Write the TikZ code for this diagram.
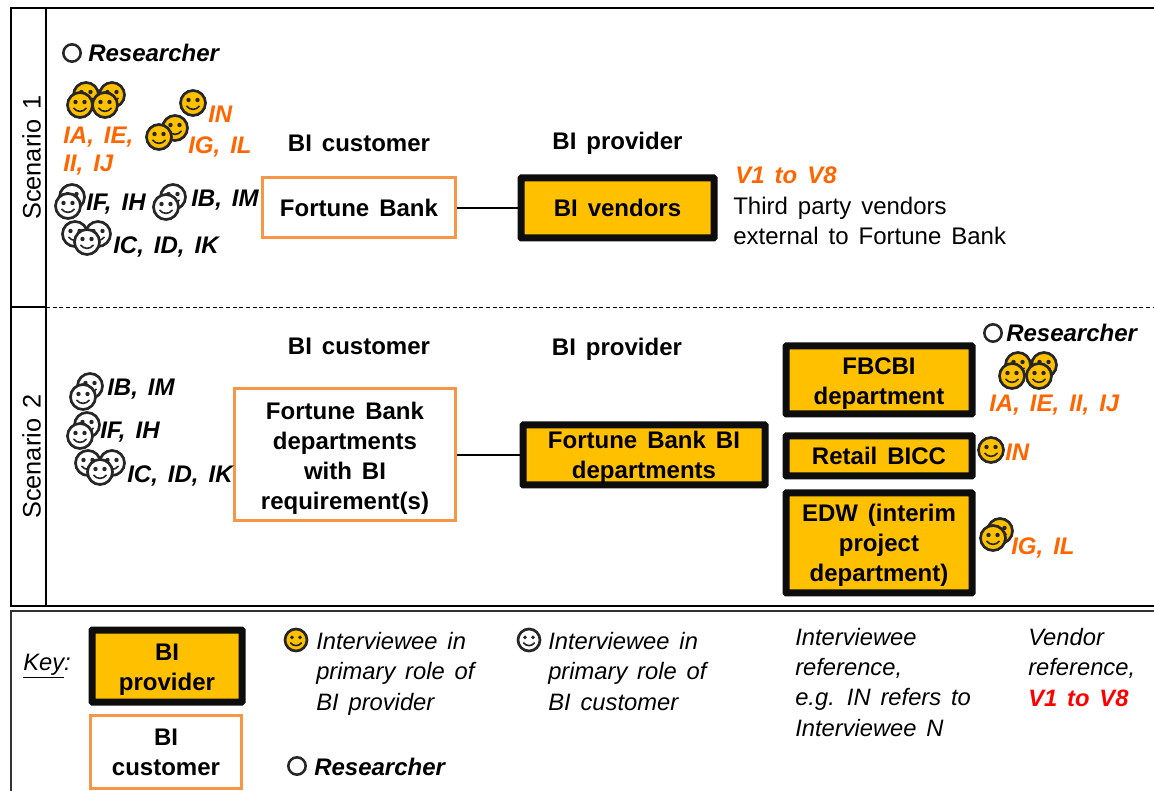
\documentclass[tikz,border=0pt]{standalone}
\usepackage{xcolor}
\usepackage{fontspec}
\setmainfont[WordSpace=1.5]{Liberation Sans}
\usepackage{tikz}
\usetikzlibrary{positioning}
\definecolor{provgold}{HTML}{FFC000}
\definecolor{custline}{HTML}{F79646}
\definecolor{reforange}{HTML}{FF6600}
\newcommand{\topgap}[1]{\rule{0pt}{#1pt}} % pushes a multi-line box text down a little
\tikzset{
	every node/.style={font=\fontsize{18}{22.5}\selectfont}, % same type size for all text
	custbox/.style={draw=custline, line width=2.25pt, fill=white, align=center, inner sep=0pt, font=\fontsize{18}{22.5}\selectfont\bfseries},
	provbox/.style={draw=black!95, line width=5.25pt, fill=provgold, rounded corners=0.5pt, align=center, inner sep=0pt, font=\fontsize{18}{22.5}\selectfont\bfseries},
	head/.style={inner sep=0pt, font=\fontsize{18}{22.5}\selectfont\bfseries},
	blackref/.style={anchor=base west, inner sep=0pt, font=\fontsize{18}{22.5}\selectfont\bfseries\itshape},
	orangeref/.style={blackref, text=reforange},
	plain/.style={anchor=base west, inner sep=0pt, align=left},
	keytext/.style={anchor=base west, inner sep=0pt, align=left, font=\fontsize{17.8}{22.7}\selectfont\itshape},
	researcher/.style={circle, draw=black!85, line width=1.9pt, minimum size=13pt, inner sep=0pt},
	rowname/.style={rotate=90, inner sep=0pt, font=\fontsize{19}{22.5}\selectfont},
	frameline/.style={draw=black, line width=1.9pt},
	pics/face/.style={code={
		\draw[line width=2pt, draw=black!85, fill=#1] (0,0) circle (12.5);
		\fill[black!85] (-4.5,-3) circle (2.2) (4.5,-3) circle (2.2);
		\draw[line width=1.2pt, black!85] (-6.5,3) .. controls (-3,7.5) and (3,7.5) .. (6.5,3);
	}},
}

\begin{document}
\begin{tikzpicture}[x=0.75pt, y=-0.75pt, on grid]
	\useasboundingbox (0,0) rectangle (1154,791);

	% Frames
	\draw[frameline] (1154,8) -- (11,8) -- (11,606) -- (1154,606);
	\draw[frameline] (46,8) -- (46,606);
	\draw[frameline] (11,307) -- (46,307);
	\draw[black, line width=0.6pt, densely dashed] (46,307) -- (1154,307);
	\draw[black!80, line width=1pt] (1154,611) -- (11,611) -- (11,791);
	\node[rowname] (row1) at (31.5,157.5) {Scenario 1};
	\node[rowname] (row2) at (31.5,456.5) {Scenario 2};

	% Scenario 1
	\node[custbox, minimum width=145pt, minimum height=45pt] (fbank) at (359,208) {Fortune Bank};
	\node[provbox, minimum width=144.75pt, minimum height=45pt] (vendors) at (617.5,208) {BI vendors};
	\node[head, above=48.5pt of fbank] (cust1) {BI customer};
	\node[head, above=48.5pt of vendors] (prov1) {BI provider};
	\draw[line width=1.5pt] (fbank) -- (vendors);

	\node[researcher] (res1) at (72,53) {};
	\node[blackref] (res1txt) at (88,62) {Researcher};
	\foreach \x/\y in {86/95, 112/95, 80/105, 105/105, 193/103, 175/128, 159/137}
		\pic at (\x,\y) {face=provgold};
	\foreach \x/\y in {72/197, 68/206, 173/197, 166/207, 75/234, 98/234, 87/242}
		\pic at (\x,\y) {face=white};
	\node[orangeref] (ia1) at (63,144) {IA, IE,};
	\node[orangeref] (ii1) at (63,172) {II, IJ};
	\node[orangeref] (in1) at (208,123) {IN};
	\node[orangeref] (ig1) at (188,154) {IG, IL};
	\node[blackref] (if1) at (86,211) {IF, IH};
	\node[blackref] (ib1) at (191,207) {IB, IM};
	\node[blackref] (ic1) at (113,254) {IC, ID, IK};
	\node[orangeref] (vref) at (735,184) {V1 to V8};
	\node[plain] (third) at (733,245) {Third party vendors\\external to Fortune Bank};

	% Scenario 2
	\node[custbox, minimum width=166pt, minimum height=99pt] (fbdept) at (345,454.5) {\topgap{19}Fortune Bank\\departments\\with BI\\requirement(s)};
	\node[provbox, minimum width=181.5pt, minimum height=45pt] (bidept) at (644,455) {\topgap{17}Fortune Bank BI\\departments};
	\node[provbox, minimum width=139.5pt, minimum height=51pt] (fbcbi) at (879,380) {\topgap{17.5}FBCBI\\department};
	\node[provbox, minimum width=139.5pt, minimum height=30pt] (retail) at (879,456) {Retail BICC};
	\node[provbox, minimum width=139.5pt, minimum height=75pt] (edw) at (879,543) {\topgap{16}EDW (interim\\project\\department)};
	\node[head] (cust2) at (359,346) {BI customer};
	\node[head] (prov2) at (617,349) {BI provider};
	\draw[line width=1.5pt] (fbdept.east |- bidept) -- (bidept);

	\foreach \x/\y in {90/386, 83/397, 87/425, 80/436, 88/463, 112/463, 100/472}
		\pic at (\x,\y) {face=white};
	\foreach \x/\y in {1018/365, 1044/365, 1012/376, 1039/376, 991/450, 1000/531, 993/538}
		\pic at (\x,\y) {face=provgold};
	\node[blackref] (ib2) at (107,396) {IB, IM};
	\node[blackref] (if2) at (100,439) {IF, IH};
	\node[blackref] (ic2) at (127,483) {IC, ID, IK};
	\node[researcher] (res2) at (993,333) {};
	\node[blackref] (res2txt) at (1006,342) {Researcher};
	\node[orangeref] (ia2) at (989,412) {IA, IE, II, IJ};
	\node[orangeref] (in2) at (1005,461) {IN};
	\node[orangeref] (ig2) at (1011,555) {IG, IL};

	% Key
	\node[keytext] (key) at (23,670) {\underline{Key}:};
	\node[provbox, minimum width=112.5pt, minimum height=54pt] (keyprov) at (167,666) {\topgap{18}BI\\provider};
	\node[custbox, minimum width=113pt, minimum height=55pt] (keycust) at (166,752) {BI\\customer};
	\pic[scale=0.88] at (296,640) {face=provgold};
	\pic[scale=0.88] at (529,640) {face=white};
	\node[keytext] (keyp) at (316,710) {Interviewee in\\primary role of\\BI provider};
	\node[keytext] (keyc) at (548,710) {Interviewee in\\primary role of\\BI customer};
	\node[keytext] (keyref) at (795,736) {Interviewee\\reference,\\e.g. IN refers to\\Interviewee N};
	\node[keytext] (keyv) at (1028,706) {Vendor\\reference,\\\textcolor{red}{\bfseries V1 to V8}};
	\node[researcher] (res3) at (297,766) {};
	\node[blackref] (res3txt) at (314,775) {Researcher};
\end{tikzpicture}
\end{document}
